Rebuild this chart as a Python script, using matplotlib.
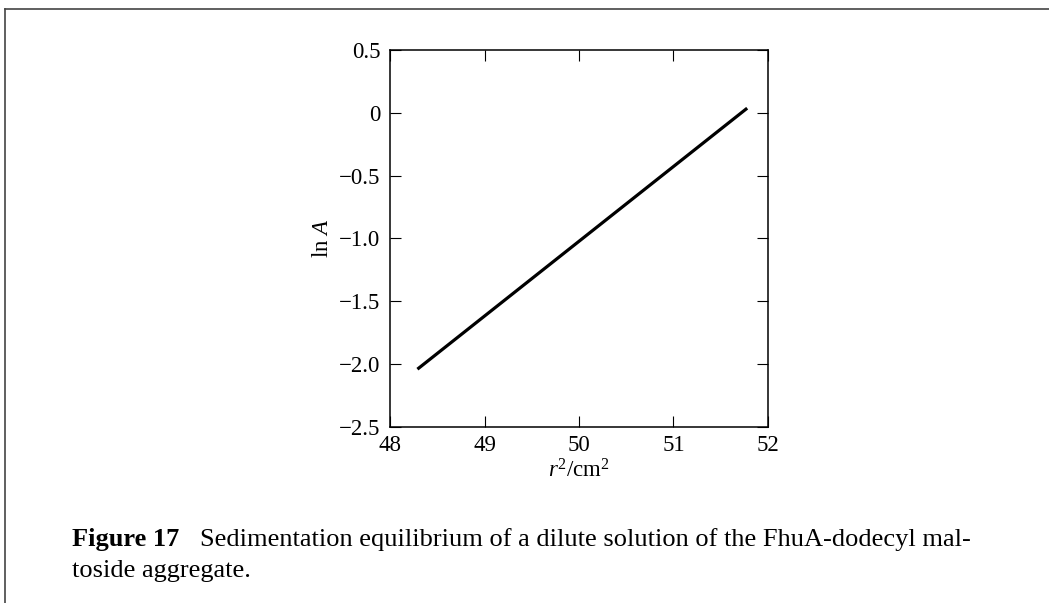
import matplotlib.pyplot as plt
from matplotlib.lines import Line2D

plt.rcParams['font.family'] = ['Liberation Serif', 'DejaVu Serif']
plt.rcParams['mathtext.fontset'] = 'custom'
plt.rcParams['mathtext.rm'] = 'Liberation Serif'
plt.rcParams['mathtext.it'] = 'Liberation Serif:italic'

# fitted line ln A vs r^2
r2 = [48.29, 51.78]
lnA = [-2.04, 0.037]

xticks = [48, 49, 50, 51, 52]
yticks = [0.5, 0, -0.5, -1.0, -1.5, -2.0, -2.5]
ytick_labels = ['0.5', '0', '\u22120.5', '\u22121.0', '\u22121.5', '\u22122.0', '\u22122.5']

fig = plt.figure(figsize=(10.49, 6.03), dpi=100)
ax = fig.add_axes([0.3718, 0.2919, 0.3603, 0.6252])

ax.plot(r2, lnA, color='black', lw=2.3, solid_capstyle='butt')

ax.set_xlim(48, 52)
ax.set_ylim(-2.5, 0.5)
ax.set_xticks(xticks)
ax.set_yticks(yticks)
ax.set_yticklabels(ytick_labels)
ax.tick_params(direction='in', length=8, width=0.8, labelsize=16.5,
               top=True, right=True, pad=7)
ax.tick_params(axis='x', pad=6)
for s in ax.spines.values():
    s.set_linewidth(1.1)

ax.set_xlabel(r'$r^2$/cm$^2$', fontsize=16.5, labelpad=2)
ax.set_ylabel(r'ln $A$', fontsize=16.5, labelpad=4)

# page frame
fig.add_artist(Line2D([0.005, 0.005], [0, 0.985], color='#444444', lw=1.2))
fig.add_artist(Line2D([0.005, 1], [0.985, 0.985], color='#444444', lw=1.2))

fig.text(72 / 1049, 1 - 546 / 603, 'Figure 17', fontsize=19, fontweight='bold', va='baseline')
fig.text(200 / 1049, 1 - 546 / 603,
         'Sedimentation equilibrium of a dilute solution of the FhuA-dodecyl mal-',
         fontsize=19, va='baseline')
fig.text(72 / 1049, 1 - 577 / 603, 'toside aggregate.', fontsize=19, va='baseline')

fig.savefig('out.png', dpi=100)
